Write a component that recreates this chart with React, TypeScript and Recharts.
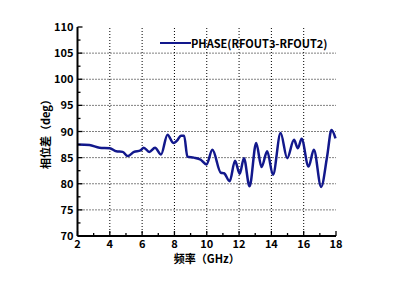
import React from "react";
import {
  LineChart,
  Line,
  XAxis,
  YAxis,
  ReferenceLine,
} from "recharts";

// frequency (GHz) and phase difference (deg)
const freqs = [
  2, 2.74, 3.36, 4.0, 4.4, 4.8, 5.1, 5.5, 5.9, 6.1, 6.44, 6.8, 7.17, 7.57,
  7.93, 8.2, 8.4, 8.6, 8.8, 9.2, 9.63, 9.98, 10.35, 10.87, 11.07, 11.42, 11.75,
  12.04, 12.3, 12.65, 13.06, 13.39, 13.74, 14.1, 14.57, 14.98, 15.4, 15.64,
  15.87, 16.3, 16.63, 17.08, 17.45, 17.72, 17.97,
];
const phase = [
  87.5, 87.4, 86.9, 86.8, 86.2, 86.1, 85.3, 86.1, 86.4, 86.9, 86.1, 86.9,
  85.6, 89.4, 87.8, 88.4, 89.2, 89.2, 85.2, 85.0, 84.6, 83.7, 86.5, 82.1, 82.0,
  80.5, 84.4, 81.9, 84.9, 79.5, 87.8, 83.2, 86.2, 81.7, 89.7, 84.9, 88.4, 86.8,
  88.6, 83.3, 86.5, 79.4, 85.2, 90.3, 88.7,
];

const xTicks = [2, 3, 4, 5, 6, 7, 8, 9, 10, 11, 12, 13, 14, 15, 16, 17, 18];
const yTicks = [
  70, 72.5, 75, 77.5, 80, 82.5, 85, 87.5, 90, 92.5, 95, 97.5, 100, 102.5, 105,
  107.5, 110,
];
const xGrid = [4, 6, 8, 10, 12, 14, 16];
const yGrid = [75, 80, 85, 90, 95, 100, 105];

const seriesName = "PHASE(RFOUT3-RFOUT2)";

const data = freqs.map((f, i) => ({ f, phase: phase[i] }));

const FONT = "'Noto Sans CJK SC', 'Noto Sans', sans-serif";
const LINE_COLOR = "#12188c";

const isMajorX = (v: number) => v % 2 === 0;
const isMajorY = (v: number) => v % 5 === 0;

const BottomTick = ({ x, y, payload }: any) => {
  const major = isMajorX(payload.value);
  return (
    <g>
      <line x1={x} x2={x} y1={y} y2={y - (major ? 5 : 3)} stroke="#000" strokeWidth={1.3} />
      {major && (
        <text x={x} y={y + 12} textAnchor="middle" fontSize={11} fontWeight="bold" fontFamily={FONT} fill="#000">
          {payload.value}
        </text>
      )}
    </g>
  );
};

const TopTick = ({ x, y, payload }: any) => (
  <line x1={x} x2={x} y1={y} y2={y + (isMajorX(payload.value) ? 5 : 3)} stroke="#000" strokeWidth={1.3} />
);

const LeftTick = ({ x, y, payload }: any) => {
  const major = isMajorY(payload.value);
  return (
    <g>
      <line x1={x} x2={x + (major ? 5 : 3)} y1={y} y2={y} stroke="#000" strokeWidth={1.3} />
      {major && (
        <text x={x - 4} y={y + 4} textAnchor="end" fontSize={11} fontWeight="bold" fontFamily={FONT} fill="#000">
          {payload.value}
        </text>
      )}
    </g>
  );
};

const RightTick = ({ x, y, payload }: any) => (
  <line x1={x} x2={x - (isMajorY(payload.value) ? 5 : 3)} y1={y} y2={y} stroke="#000" strokeWidth={1.3} />
);

export default function App() {
  return (
    <div style={{ position: "absolute", left: 0, top: 0, width: 394, height: 281, background: "#fff" }}>
      <LineChart
        width={394}
        height={281}
        data={data}
        margin={{ top: 27, right: 58, bottom: 10, left: 0 }}
      >
        {xGrid.map((v) => (
          <ReferenceLine key={"x" + v} x={v} stroke="#000" strokeDasharray="1 2" strokeWidth={1} />
        ))}
        {yGrid.map((v) => (
          <ReferenceLine key={"y" + v} y={v} stroke="#000" strokeDasharray="1 2" strokeWidth={1} />
        ))}
        <XAxis
          dataKey="f"
          type="number"
          domain={[2, 18]}
          ticks={xTicks}
          interval={0}
          height={35}
          tickSize={0}
          tickMargin={0}
          tickLine={false}
          axisLine={{ stroke: "#000", strokeWidth: 2 }}
          tick={<BottomTick />}
          label={{
            content: ({ viewBox }: any) => (
              <text
                x={viewBox.x + viewBox.width / 2}
                y={viewBox.y + 27}
                textAnchor="middle"
                fontSize={11}
                fontWeight="bold"
                fontFamily={FONT}
                fill="#000"
              >
                频率（GHz）
              </text>
            ),
          }}
        />
        <XAxis
          xAxisId="top"
          orientation="top"
          dataKey="f"
          type="number"
          domain={[2, 18]}
          ticks={xTicks}
          interval={0}
          height={0}
          tickSize={0}
          tickMargin={0}
          tickLine={false}
          axisLine={{ stroke: "#000", strokeWidth: 2 }}
          tick={<TopTick />}
        />
        <YAxis
          type="number"
          domain={[70, 110]}
          ticks={yTicks}
          interval={0}
          width={77.5}
          tickSize={0}
          tickMargin={0}
          tickLine={false}
          axisLine={{ stroke: "#000", strokeWidth: 2 }}
          tick={<LeftTick />}
          label={{
            content: ({ viewBox }: any) => {
              const cx = 45;
              const cy = viewBox.y + viewBox.height / 2;
              return (
                <text
                  x={cx}
                  y={cy}
                  transform={`rotate(-90 ${cx} ${cy})`}
                  textAnchor="middle"
                  dominantBaseline="central"
                  fontSize={11}
                  fontWeight="bold"
                  fontFamily={FONT}
                  fill="#000"
                >
                  相位差（deg）
                </text>
              );
            },
          }}
        />
        <YAxis
          yAxisId="right"
          orientation="right"
          type="number"
          domain={[70, 110]}
          ticks={yTicks}
          interval={0}
          width={0}
          tickSize={0}
          tickMargin={0}
          tickLine={false}
          axisLine={{ stroke: "#000", strokeWidth: 2 }}
          tick={<RightTick />}
        />
        <Line
          type="monotone"
          dataKey="phase"
          name={seriesName}
          stroke={LINE_COLOR}
          strokeWidth={2.5}
          dot={false}
          isAnimationActive={false}
        />
      </LineChart>
      <div
        style={{
          position: "absolute",
          left: 160,
          top: 36,
          display: "flex",
          alignItems: "center",
          fontFamily: FONT,
          fontSize: 11,
          fontWeight: "bold",
          color: "#000",
          lineHeight: "14px",
        }}
      >
        <div style={{ width: 31, height: 2.5, background: LINE_COLOR }} />
        <span>{seriesName}</span>
      </div>
    </div>
  );
}
